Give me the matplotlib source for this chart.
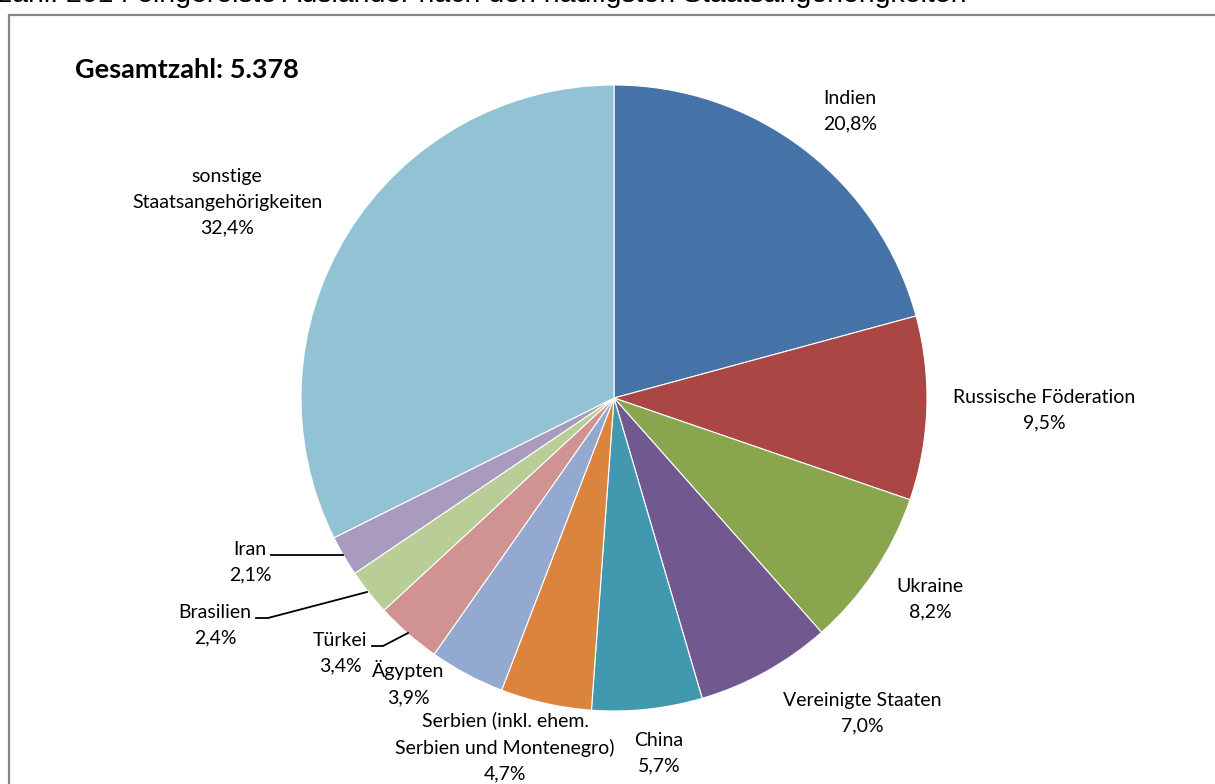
import matplotlib
matplotlib.use("Agg")
import matplotlib.pyplot as plt
from matplotlib.patches import Rectangle

# shares in percent, clockwise from 12 o'clock
countries = ["Indien", "Russische Föderation", "Ukraine", "Vereinigte Staaten",
             "China", "Serbien (inkl. ehem.\nSerbien und Montenegro)", "Ägypten",
             "Türkei", "Brasilien", "Iran", "sonstige\nStaatsangehörigkeiten"]
shares = [20.8, 9.5, 8.2, 7.0, 5.7, 4.7, 3.9, 3.4, 2.4, 2.1, 32.4]
total = "5.378"
title = "zahl: 2014 eingereiste Ausländer nach den häufigsten Staatsangehörigkeiten"

colors = ["#4572A7", "#AA4643", "#89A54E", "#71588F", "#4198AF", "#DB843D",
          "#93A9CF", "#D19392", "#B9CD96", "#A99BBD", "#92C3D4"]

W, H = 1215, 784
# label centres in pixel coordinates (x, y from top)
label_pos = [(850, 111), (1044, 410), (930, 599), (862, 713), (659, 753),
             (505, 747), (408, 683), (340, 653), (215, 625), (250, 562),
             (227, 202)]
# leader lines for the small slices (pixel coords, y from top)
leaders = {
    "Iran": [(271, 555), (343, 555)],
    "Brasilien": [(256, 618), (268, 618), (367, 592)],
    "Türkei": [(372, 646), (383, 646), (408, 633)],
}

fig = plt.figure(figsize=(W / 100, H / 100), dpi=100)
ax = fig.add_axes([0, 0, 1, 1])

ax.pie(shares, colors=colors, startangle=90, counterclock=False,
       center=(614, H - 398), radius=313,
       wedgeprops=dict(edgecolor="white", linewidth=0.8))

ax.set_xlim(0, W)
ax.set_ylim(0, H)
ax.set_aspect("equal")
ax.axis("off")

# chart frame
ax.add_patch(Rectangle((9, -20), W + 20, H - 15 + 20, fill=False,
                       edgecolor="#878787", linewidth=1.6, clip_on=False))

for name, val, (x, y) in zip(countries, shares, label_pos):
    txt = name + "\n" + f"{val:.1f}".replace(".", ",") + "%"
    ax.text(x, H - y, txt, ha="center", va="center", fontsize=14,
            family="Lato", linespacing=1.62, color="black")

for pts in leaders.values():
    xs = [p[0] for p in pts]
    ys = [H - p[1] for p in pts]
    ax.plot(xs, ys, color="black", linewidth=1.3)

ax.text(75, H - 70, "Gesamtzahl: " + total, fontsize=19.5, fontweight="bold",
        family="Lato", ha="left", va="center")

# page heading above the chart, cut off by the top edge
fig.text(-2 / W, 1 - 2.5 / H, title, fontsize=20.5, family="Liberation Sans",
         ha="left", va="baseline")

fig.savefig("out.png", dpi=100)
